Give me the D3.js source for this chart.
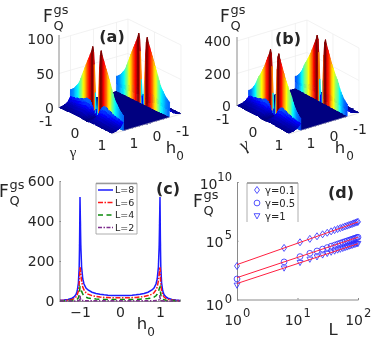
<!DOCTYPE html>
<html><head><meta charset="utf-8">
<script src="https://cdn.jsdelivr.net/npm/d3@7/dist/d3.min.js"></script>
<style>html,body{margin:0;padding:0;background:#fff;overflow:hidden}text{font-family:"DejaVu Sans",sans-serif;fill:#262626}</style>
</head><body><svg id="c" width="374" height="339"></svg>
<script>
// ---- surfaces (a), (b): one half of the symmetric profiles along gamma
const gammaHalf=[0,.03,.06,.1,.13,.16,.2,.25,.3,.35,.4,.45,.5,.55,.6,.65,.7,.75,.8,.85,.9,.95,1];
const wallA=[0,12,35,75,93,100,93,87,81,76,70,64,58,52,46,40,36,33,30,27,25,23,22];
const skirtA=[0,2,5,9,13,16,19,21,22,22,21,20,19,18,17,16,15,15,14,14,13,13,12];
const wallB=[0,45,140,300,380,400,370,345,320,295,270,250,230,210,195,175,150,130,115,100,90,80,75];
const skirtB=[0,7,18,32,46,58,68,76,80,80,76,72,68,65,61,58,54,54,50,50,47,47,43];
// share of the wall and skirt profile across |h0|
const hAbs=[0,.3,.6,.8,.9,.95,.995,1,1.005,1.05,1.1,1.15,1.2,1.3,1.4,1.5];
const wallShare=[0,0,0,0,0,0,0,1,0,0,0,0,0,0,0,0];
const skirtShare=[0,0,0,0,0,0,0,0,1,.75,.55,.42,.32,.2,.12,.06];
const zTicksA=[0,50,100], zTicksB=[0,200,400];
// ---- panel (c)
const hC=[0,.1,.2,.3,.4,.5,.6,.7,.8,.85,.9,.93,.96,.98,.99,1,1.01,1.02,1.04,1.07,1.1,1.15,1.2,1.3,1.4,1.5];
const fL8=[27,27,28,29,31,34,38,44,55,65,85,110,170,280,400,520,300,170,90,50,32,20,14,8,5,3];
const fL6=[16,16,16,17,18,20,23,27,34,41,55,70,100,135,155,170,130,85,50,30,20,12,8,5,3,2];
const fL4=[7,7,7,8,8,9,10,12,15,19,26,34,48,60,66,70,50,30,16,9,6,4,3,2,1,1];
const fL2=[1,1,1,1,1,1,1,1,1,1,2,2,3,6,12,30,10,3,1,1,0,0,0,0,0,0];
const namesC=["L=8","L=6","L=4","L=2"];
const colorsC=["#1a1aff","#ff1414","#0a8a0a","#7e2f8e"];
const dashC=["","5,1.5,1.5,1.5","5,3.5","4,1.5,1.5,1.5"];
const ticksCx=[-1,0,1], ticksCy=[0,200,400,600];
// ---- panel (d): log10 of F for each L
const sizes=[1,6,11,16,21,26,31,36,41,46,51,56,61,66,71,76,81,86,91,96,100];
const logF01=[2.85,4.39,4.87,5.16,5.38,5.55,5.68,5.80,5.91,6.00,6.08,6.15,6.22,6.28,6.34,6.39,6.44,6.49,6.54,6.58,6.61];
const logF05=[1.75,3.2,3.65,3.93,4.13,4.29,4.42,4.54,4.63,4.72,4.80,4.87,4.93,4.99,5.04,5.10,5.14,5.19,5.23,5.27,5.30];
const logF1=[1.2,2.66,3.13,3.41,3.61,3.77,3.9,4.01,4.1,4.19,4.26,4.33,4.39,4.45,4.51,4.56,4.6,4.65,4.69,4.73,4.75];
const fitEnds=[[2.97,6.6],[1.86,5.3],[1.36,4.75]];
const namesD=["γ=0.1","γ=0.5","γ=1"];
const symbolsD=["diamond","circle","tri"];

const svg=d3.select("#c");
const defs=svg.append("defs");
defs.append("filter").attr("id","soft").attr("x","-5%").attr("y","-5%").attr("width","110%").attr("height","110%")
  .append("feGaussianBlur").attr("stdDeviation",.4);
const root=svg.append("g").attr("filter","url(#soft)");

function jet(t){t=Math.max(0,Math.min(1,t));
  const c=x=>Math.round(255*Math.max(0,Math.min(1,x)));
  const r=1.5-Math.abs(4*t-3),g=1.5-Math.abs(4*t-2),b=1.5-Math.abs(4*t-1);
  return `rgb(${c(r)},${c(g)},${c(b)})`;}

function fq(x,y,size){ // F_Q^gs title
  const s=size||17;
  root.append("text").attr("x",x).attr("y",y).attr("font-size",s).text("F");
  root.append("text").attr("x",x+s*.62).attr("y",y-8).attr("font-size",s*.76).text("gs");
  root.append("text").attr("x",x+s*.62).attr("y",y+8).attr("font-size",s*.76).text("Q");
}
function label(x,y,t,size,anchor,weight){
  return root.append("text").attr("x",x).attr("y",y).attr("dy",".36em").attr("font-size",size||14)
   .attr("text-anchor",anchor||"middle").attr("font-weight",weight||null).text(t);
}

function surface(p){
  const g=root.append("g");
  const gx=d3.scaleLinear([-1,1],[0,p.gv[0]]),gy=d3.scaleLinear([-1,1],[0,p.gv[1]]);
  const hx=d3.scaleLinear([1.5,-1.5],[0,p.hv[0]]),hy=d3.scaleLinear([1.5,-1.5],[0,p.hv[1]]);
  const zs=d3.scaleLinear([0,p.zMax],[0,p.zPx]);
  const P=(a,h,z)=>[p.o[0]+gx(a)+hx(h),p.o[1]+gy(a)+hy(h)-zs(z)];
  const grid=[];
  p.zTicks.forEach(z=>{grid.push([P(-1,1.5,z),P(-1,-1.5,z)]);grid.push([P(-1,-1.5,z),P(1,-1.5,z)]);});
  [-1,0,1].forEach(h=>grid.push([P(-1,h,0),P(-1,h,p.zMax)]));
  [-1,0,1].forEach(a=>grid.push([P(a,-1.5,0),P(a,-1.5,p.zMax)]));
  g.selectAll("line.grid").data(grid).join("line").attr("class","grid")
   .attr("x1",d=>d[0][0]).attr("y1",d=>d[0][1]).attr("x2",d=>d[1][0]).attr("y2",d=>d[1][1])
   .attr("stroke","#ececec").attr("stroke-width",.7);
  const gam=[...gammaHalf.slice(1).reverse().map(v=>-v),...gammaHalf];
  const wall=[...p.wall.slice(1).reverse(),...p.wall];
  const skirt=[...p.skirt.slice(1).reverse(),...p.skirt];
  const hs=[...hAbs.slice(1).reverse().map(v=>-v),...hAbs];
  const ws=[...wallShare.slice(1).reverse(),...wallShare];
  const ss=[...skirtShare.slice(1).reverse(),...skirtShare];
  const Z=(i,j)=>wall[i]*ws[j]+skirt[i]*ss[j];
  const quads=[];
  for(let i=0;i<gam.length-1;i++)for(let j=0;j<hs.length-1;j++){
    const c=[[i,j],[i+1,j],[i+1,j+1],[i,j+1]];
    const zm=d3.max(c,q=>Z(q[0],q[1]));
    quads.push({pts:c.map(q=>P(gam[q[0]],hs[q[1]],Z(q[0],q[1]))),col:jet(zm/p.zMax),isWall:ws[j]+ws[j+1]>0});
  }
  const line=d3.line();
  g.selectAll("path.q").data(quads).join("path").attr("class","q")
   .attr("d",d=>line(d.pts)+"Z").attr("fill",d=>d.col).attr("stroke",d=>d.col).attr("stroke-width",d=>d.isWall?.6:.5)
   .attr("shape-rendering",d=>d.isWall?"auto":"crispEdges");
  g.append("line").attr("x1",p.o[0]).attr("x2",p.o[0]).attr("y1",p.o[1]).attr("y2",p.o[1]-zs(p.zMax)-4).attr("stroke","#8a8a8a").attr("stroke-width",1);
  const e1=P(1,1.5,0),e2=P(1,-1.5,0);
  g.append("line").attr("x1",e1[0]).attr("y1",e1[1]).attr("x2",e2[0]).attr("y2",e2[1]).attr("stroke","#cfcfcf").attr("stroke-width",.6);
}
const serif='"Liberation Serif",serif';
// (a)
surface({o:[59,108],gv:[53,26],hv:[69,-20],zMax:100,zPx:69,wall:wallA,skirt:skirtA,zTicks:[50,100]});
fq(43,22);
zTicksA.forEach((t,i)=>label(54,[107.5,74,39][i],t,14,"end"));
label(46,121,"-1");label(75,133,"0");label(102,145,"1");
label(73,152,"γ",15).style("font-family",serif);
label(134,143,"1");label(157,136,"0");label(183,131,"-1");
label(171,147,"h",16.5);label(180,156,"0",12);
label(112,36,"(a)",16,"middle","bold");
// (b)
surface({o:[237,106],gv:[52,28],hv:[70,-21],zMax:400,zPx:65,wall:wallB,skirt:skirtB,zTicks:[200,400]});
fq(220,22);
zTicksB.forEach((t,i)=>label(231,[105.5,74,41][i],t,14,"end"));
label(223,119,"-1");label(253,132,"0");label(279,145,"1");
label(244,144,"γ",18).style("font-family",serif).attr("transform","rotate(-25 244 144)");
label(311,143,"1");label(334,136,"0");label(360,129,"-1");
label(340,147,"h",16.5);label(350,156,"0",12);
label(288,38,"(b)",16,"middle","bold");

// (c)
{
 const x=d3.scaleLinear([-1.5,1.5],[60,180]),y=d3.scaleLinear([0,600],[301,181]);
 const all=[...hC.slice(1).reverse().map(v=>-v),...hC];
 const mirror=a=>[...a.slice(1).reverse(),...a];
 const ax=root.append("g").attr("transform","translate(0,301)").call(d3.axisBottom(x).tickValues(ticksCx).tickFormat(d3.format("d")).tickSize(-1.5).tickPadding(6));
 const ay=root.append("g").attr("transform","translate(59.5,0)").call(d3.axisLeft(y).tickValues(ticksCy).tickFormat(d3.format("d")).tickSize(-1.5).tickPadding(5));
 [ax,ay].forEach(a=>{a.selectAll("path,line").attr("stroke","#8a8a8a");a.selectAll("text").attr("font-size",14);a.attr("font-family",null).attr("font-size",null);});
 const line=d3.line().x((d,i)=>x(all[i])).y(d=>y(d));
 [fL8,fL6,fL4,fL2].forEach((s,k)=>root.append("path").attr("d",line(mirror(s))).attr("fill","none")
   .attr("stroke",colorsC[k]).attr("stroke-width",1.5).attr("stroke-dasharray",dashC[k]));
 root.append("path").attr("d","M96,234V183.3H137V234Z").attr("fill","#fff").attr("stroke","#9a9a9a").attr("stroke-width",.8);
 root.append("line").attr("x1",96).attr("x2",137).attr("y1",183.5).attr("y2",183.5).attr("stroke","#9a9a9a").attr("stroke-width",1.4);
 namesC.forEach((n,k)=>{const yy=190+12.5*k;
   root.append("line").attr("x1",98).attr("x2",113).attr("y1",yy).attr("y2",yy).attr("stroke",colorsC[k]).attr("stroke-width",1.5).attr("stroke-dasharray",dashC[k]);
   label(115,yy,n,9.5,"start");});
 fq(-1,197);
 label(142,323,"h",16.5);label(151,332,"0",12);
 label(168,188,"(c)",16,"middle","bold");
}
// (d)
{
 const x=d3.scaleLog([1,100],[237,358]),y=d3.scaleLog([1,1e10],[299.5,182]);
 const ax=root.append("g").attr("transform","translate(0,299.5)").call(d3.axisBottom(x).tickValues([1,10,100]).tickSize(-1.5).tickFormat(""));
 const ay=root.append("g").attr("transform","translate(237,0)").call(d3.axisLeft(y).tickValues([1,1e5,1e10]).tickSize(-1.5).tickFormat(""));
 [ax,ay].forEach(a=>a.selectAll("path,line").attr("stroke","#8a8a8a"));
 [[1,0],[1e5,5],[1e10,10]].forEach(([v,e])=>{
   label(232-(e==10?14.5:8.5),y(v)+(e==0?5:1.5),"10",14,"end");
   label(232,y(v)+(e==0?-1:-5.5),e,11.5,"end");});
 [[1,0],[10,1],[100,2]].forEach(([v,e])=>{
   label(x(v)+5,320,"10",14,"end");
   label(x(v)+6,313,e,11.5,"start");});
 const sym=(k,cx,cy)=>{
   const r=2.9;
   if(symbolsD[k]=="circle")return root.append("circle").attr("cx",cx).attr("cy",cy).attr("r",r);
   if(symbolsD[k]=="diamond")return root.append("path").attr("d",d3.line()([[cx,cy-r-.6],[cx+r-.4,cy],[cx,cy+r+.6],[cx-r+.4,cy]])+"Z");
   return root.append("path").attr("d",d3.line()([[cx-r,cy-r+.6],[cx+r,cy-r+.6],[cx,cy+r]])+"Z");};
 [logF01,logF05,logF1].forEach((s,k)=>{
   s.forEach((v,i)=>sym(k,x(sizes[i]),y(Math.pow(10,v))).attr("fill","none").attr("stroke","#2a2aff").attr("stroke-width",.8));
 });
 fitEnds.forEach(f=>root.append("line").attr("x1",x(1)).attr("x2",x(100)).attr("y1",y(Math.pow(10,f[0]))).attr("y2",y(Math.pow(10,f[1])))
   .attr("stroke","#ff2040").attr("stroke-width",1));
 root.append("path").attr("d","M247,222V183H298V222").attr("fill","none").attr("stroke","#9a9a9a").attr("stroke-width",.8);
 root.append("line").attr("x1",247).attr("x2",298).attr("y1",183).attr("y2",183).attr("stroke","#9a9a9a").attr("stroke-width",1.4);
 namesD.forEach((n,k)=>{const yy=190+13*k;
   sym(k,257,yy).attr("fill","none").attr("stroke","#2a2aff").attr("stroke-width",.8);
   label(265,yy,n,10,"start");});
 fq(193,207);
 label(333,329,"L",16.5);
 label(341,192,"(d)",16,"middle","bold");
}
</script></body></html>
